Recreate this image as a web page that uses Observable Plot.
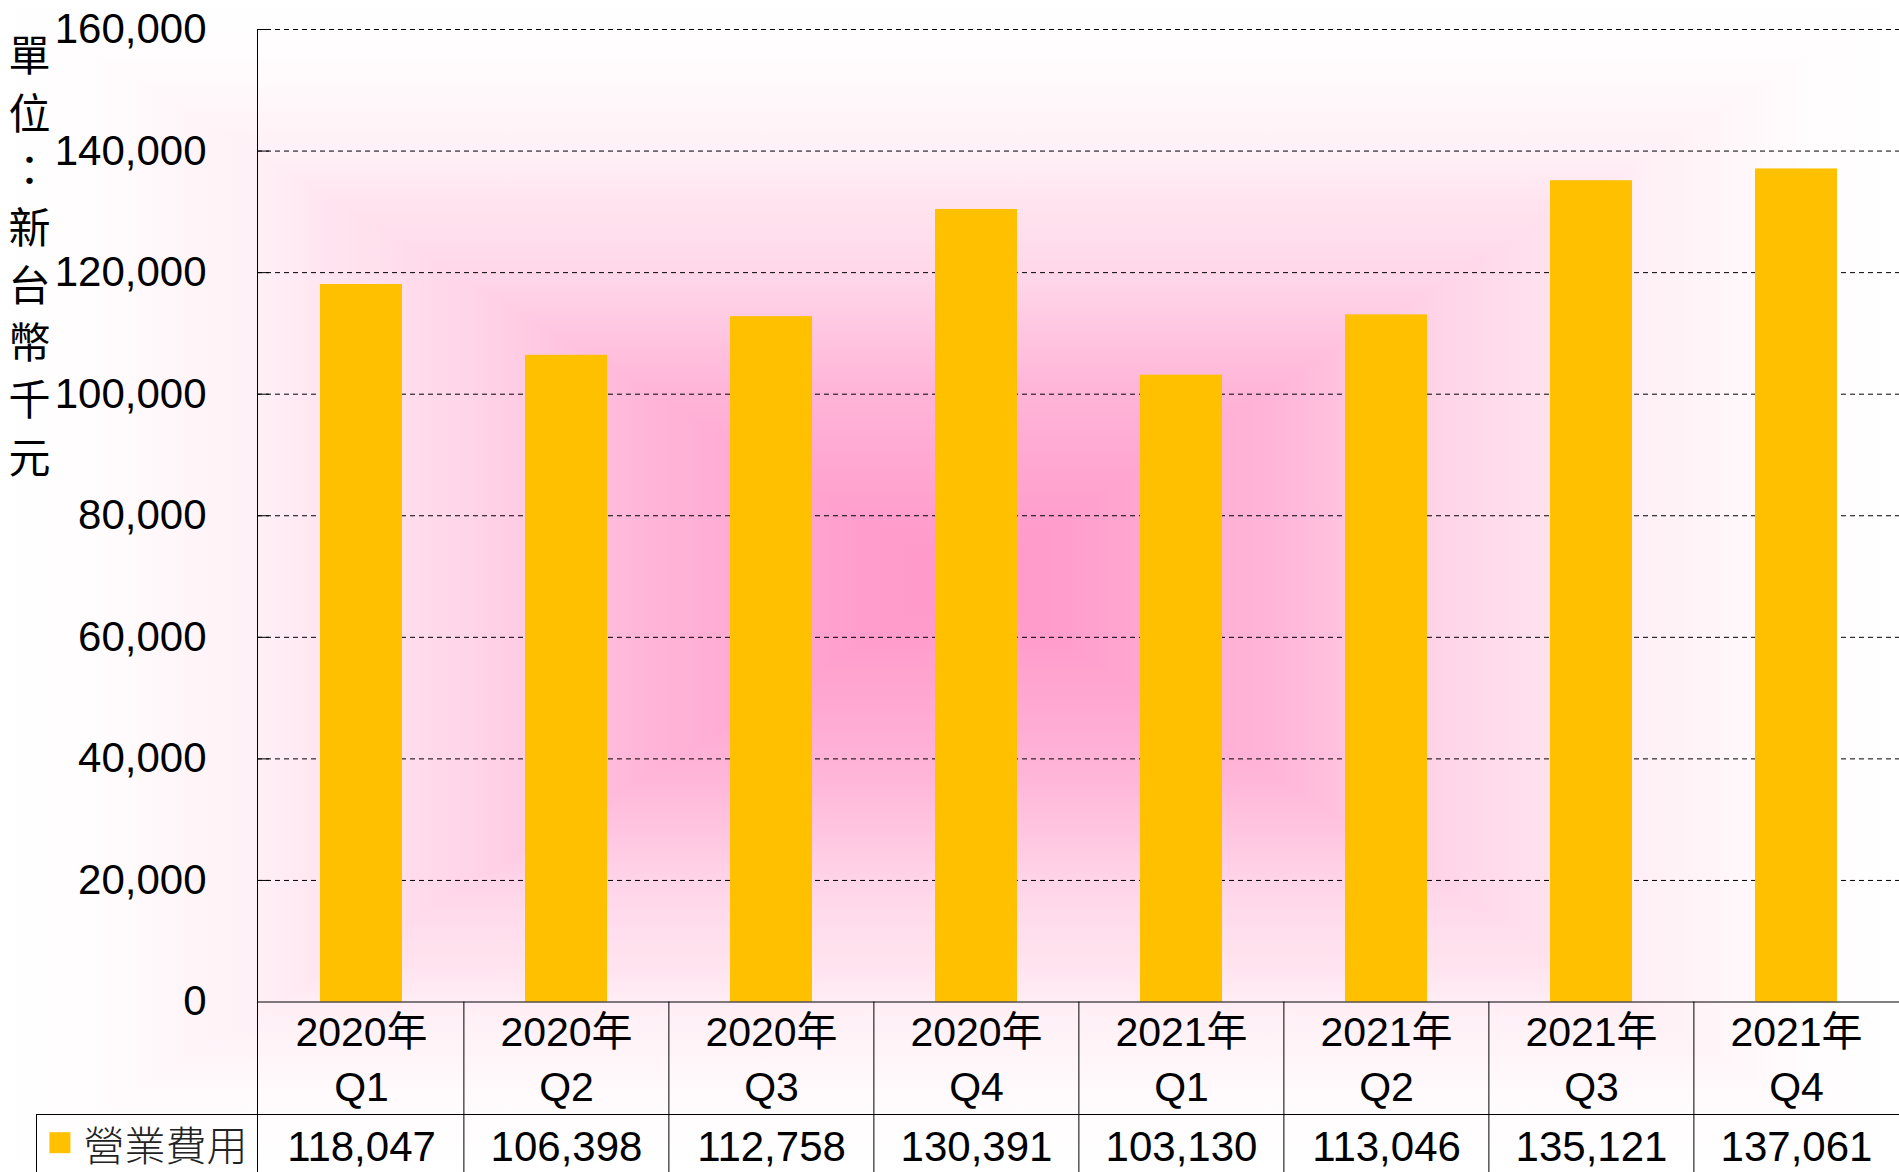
<!DOCTYPE html>
<html><head><meta charset="utf-8">
<script src="https://cdn.jsdelivr.net/npm/d3@7"></script>
<script src="https://cdn.jsdelivr.net/npm/@observablehq/plot@0.6"></script>
<style>html,body{margin:0;padding:0;background:#fff;overflow:hidden}#chart svg{display:block}</style>
</head><body><div id="chart"></div>
<script>
// ---- data ----
const quarters = ["2020年\nQ1","2020年\nQ2","2020年\nQ3","2020年\nQ4","2021年\nQ1","2021年\nQ2","2021年\nQ3","2021年\nQ4"];
const values = [118047, 106398, 112758, 130391, 103130, 113046, 135121, 137061];
const yTicks = [0, 20000, 40000, 60000, 80000, 100000, 120000, 140000, 160000];
const seriesName = "營業費用";
const unitLabel = "單位：新台幣千元";

// ---- layout ----
const W = 1899, H = 1172, ML = 257, MT = 29, MB = 170.5, MR = 0;
const frameW = W - ML - MR, frameH = H - MT - MB;
const halfStep = frameW / quarters.length / 2;
const rowGap = 112.5;
const barColor = "#ffc000";
const fmt = d3.format(",");
const data = quarters.map((q, i) => ({q, v: values[i]}));

const svg = Plot.plot({
  width: W, height: H,
  marginLeft: ML, marginTop: MT, marginBottom: MB, marginRight: MR,
  style: {background: "transparent", fontFamily: "'Liberation Sans', Arial, 'Noto Sans CJK TC', sans-serif", color: "#000", overflow: "visible"},
  x: {domain: quarters, paddingInner: 0.6, paddingOuter: 0.3, axis: null},
  y: {domain: [0, 160000], axis: null},
  marks: [
    Plot.ruleY(yTicks.filter(d => d > 0), {stroke: "#000", strokeWidth: 1, strokeDasharray: "5,4"}),
    Plot.ruleY(yTicks.filter(d => d > 0), {stroke: "#000", strokeWidth: 1, insetRight: frameW - 12}),
    Plot.barY(data, {x: "q", y: "v", fill: barColor}),
    Plot.axisY({ticks: yTicks, tickFormat: fmt, tickSize: 0, tickPadding: 51, fontSize: 42, fill: "#000", label: null}),
    // axis lines + table grid
    Plot.frame({anchor: "left", stroke: "#000", insetBottom: -MB}),
    Plot.ruleY([0], {stroke: "#000"}),
    Plot.ruleY([0], {stroke: "#000", dy: rowGap, insetLeft: -(ML - 36)}),
    Plot.frame({anchor: "left", stroke: "#000", dx: -(ML - 36), insetTop: frameH + rowGap, insetBottom: -MB}),
    Plot.ruleX(quarters.slice(1), {x: d => d, dx: -halfStep, stroke: "#000", insetTop: frameH, insetBottom: -MB}),
    // category labels
    Plot.text(quarters, {x: d => d, text: d => d, frameAnchor: "bottom", lineAnchor: "top", dy: 5, fontSize: 41, lineHeight: 1.34, fill: "#000"}),
    // value row
    Plot.text(data, {x: "q", text: d => fmt(d.v), frameAnchor: "bottom", lineAnchor: "top", dy: 129, fontSize: 42, fill: "#000"}),
    // legend in table
    Plot.text([seriesName], {text: d => d, frameAnchor: "bottom-left", textAnchor: "end", lineAnchor: "top", dx: -10, dy: 130, fontSize: 41, fontFamily: "'Noto Sans CJK TC', sans-serif", fontWeight: 300, fill: "#222"}),
    Plot.dot([seriesName], {x: null, y: null, frameAnchor: "bottom-left", dx: -197.6, dy: 140.7, symbol: "square", r: 11.85, fill: barColor, stroke: null}),
    // unit label (vertical)
    Plot.text([unitLabel], {text: d => d.split("").join("\n"), frameAnchor: "top-left", textAnchor: "middle", lineAnchor: "top", dx: -228, dy: 1, fontSize: 42, lineHeight: 1.365, fontFamily: "'Noto Sans CJK TC', sans-serif", fill: "#000"})
  ]
});

// ---- rectangular gradient background ----
const cx = 965, cy = 580;
const stops = [[0, "#ffffff"], [0.09, "#fffdfe"], [0.27, "#fff0f6"], [0.33, "#ffe6f0"], [0.48, "#ffd6e9"], [0.67, "#ffb5d8"], [0.9, "#ff9dcc"], [1, "#ff98ca"]];
const s = d3.select(svg);
const bg = s.insert("g", ":first-child");
const defs = bg.append("defs");
function grad(id, x1, y1, x2, y2) {
  const g = defs.append("linearGradient").attr("id", id).attr("gradientUnits", "userSpaceOnUse")
    .attr("x1", x1).attr("y1", y1).attr("x2", x2).attr("y2", y2);
  stops.forEach(([o, c]) => g.append("stop").attr("offset", o).attr("stop-color", c));
}
grad("gTop", 0, 0, 0, cy);
grad("gBot", 0, H, 0, cy);
grad("gLeft", 0, 0, cx, 0);
grad("gRight", W, 0, cx, 0);
bg.append("rect").attr("x", 0).attr("y", 0).attr("width", W).attr("height", cy + 1).attr("fill", "url(#gTop)");
bg.append("rect").attr("x", 0).attr("y", cy).attr("width", W).attr("height", H - cy).attr("fill", "url(#gBot)");
bg.append("polygon").attr("points", `0,0 ${cx},${cy} 0,${H}`).attr("fill", "url(#gLeft)");
bg.append("polygon").attr("points", `${W},0 ${cx},${cy} ${W},${H}`).attr("fill", "url(#gRight)");

document.getElementById("chart").appendChild(svg);
</script>
</body></html>
